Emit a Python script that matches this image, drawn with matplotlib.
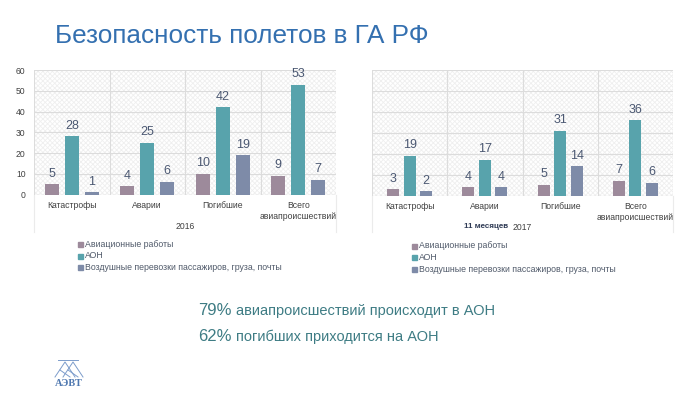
import matplotlib
matplotlib.use("Agg")
import matplotlib.pyplot as plt
import numpy as np
from matplotlib.patches import Rectangle
from matplotlib.lines import Line2D

plt.rcParams['font.family'] = ['Liberation Sans', 'DejaVu Sans']
plt.rcParams['hatch.linewidth'] = 0.6

categories = ["Катастрофы", "Аварии", "Погибшие", "Всего\nавиапроисшествий"]
series_names = ["Авиационные работы", "АОН", "Воздушные перевозки пассажиров, груза, почты"]
vals_2016_aw = [5, 4, 10, 9]
vals_2016_aon = [28, 25, 42, 53]
vals_2016_vp = [1, 6, 19, 7]
vals_2017_aw = [3, 4, 5, 7]
vals_2017_aon = [19, 17, 31, 36]
vals_2017_vp = [2, 4, 14, 6]
yticks = [0, 10, 20, 30, 40, 50, 60]

colors = ["#9D8A9B", "#58A3AC", "#7E8BA8"]
label_color = "#4B5872"
tick_color = "#404040"
grid_color = "#DCDCDC"

W, H = 700, 394
fig = plt.figure(figsize=(7, 3.94), dpi=100)

def fx(px):
    return px / W

def fy(py):
    return 1 - py / H

def draw_chart(rect, series, bw, step, show_yticks):
    ax = fig.add_axes(rect)
    x = np.arange(len(categories))
    # hatched background
    ax.add_patch(Rectangle((0, 0), 1, 1, transform=ax.transAxes, facecolor='white',
                           edgecolor='#EFEFEF', hatch='xxxxxxx', linewidth=0, zorder=0))
    for i, (vals, c) in enumerate(zip(series, colors)):
        xs = x + (i - 1) * step
        ax.bar(xs, vals, width=bw, color=c, zorder=3)
        for xb, v in zip(xs, vals):
            ax.text(xb, v + 2.2, str(v), ha='center', va='bottom', fontsize=9,
                    color=label_color, zorder=4)
    ax.set_xlim(-0.5, len(categories) - 0.5)
    ax.set_ylim(0, 60)
    ax.set_yticks(yticks)
    for yv in yticks[1:]:
        ax.axhline(yv, color=grid_color, lw=0.8, zorder=1)
    for xv in np.arange(-0.5, len(categories), 1.0):
        ax.axvline(xv, color=grid_color, lw=0.8, zorder=1)
    ax.axhline(0, color=grid_color, lw=0.9, zorder=2)
    for s in ax.spines.values():
        s.set_visible(False)
    ax.tick_params(axis='both', length=0)
    ax.set_xticks(x)
    ax.set_xticklabels(categories, fontsize=6.2, color=tick_color, linespacing=1.2, va='top')
    ax.tick_params(axis='x', pad=5)
    if show_yticks:
        ax.set_yticklabels([str(v) for v in yticks], fontsize=6.2, color=tick_color)
        ax.tick_params(axis='y', pad=6)
    else:
        ax.set_yticklabels([])
    return ax

ax1 = draw_chart([fx(34), fy(194.5), fx(302), (194.5 - 70) / H],
                 [vals_2016_aw, vals_2016_aon, vals_2016_vp], 0.19, 0.265, True)
ax2 = draw_chart([fx(372), fy(195.5), fx(301), (195.5 - 70) / H],
                 [vals_2017_aw, vals_2017_aon, vals_2017_vp], 0.16, 0.22, False)

# category axis box lines
for xp, y0, y1 in [(34, 194.5, 232), (336, 194.5, 232), (372, 195.5, 232), (673, 195.5, 232)]:
    fig.add_artist(Line2D([fx(xp), fx(xp)], [fy(y0), fy(y1)], color='#EBEBEB', lw=0.8))

fig.text(fx(185), fy(226), "2016", fontsize=6.2, color=tick_color, ha='center', va='center')
fig.text(fx(508), fy(227), "11 месяцев", fontsize=5.8, color='#2F3B55', ha='right',
         va='center', fontweight='bold')
fig.text(fx(513), fy(228), "2017", fontsize=6.2, color=tick_color, ha='left', va='center')

# legends
def draw_legend(x0, ys):
    for (name, c, yp) in zip(series_names, colors, ys):
        fig.add_artist(Rectangle((fx(x0), fy(yp + 2.5)), fx(5), 5 / H, color=c,
                                 transform=fig.transFigure))
        fig.text(fx(x0 + 7), fy(yp), name, fontsize=6.3, color='#505A6A', va='center', ha='left')

draw_legend(78, [244.5, 256, 267.5])
draw_legend(412, [246, 257.5, 269])

# title
fig.text(fx(55), fy(36), "Безопасность полетов в ГА РФ", fontsize=18.8, color='#3470B0',
         ha='left', va='center')

# bottom statements
tc = '#3E7C84'
fig.text(fx(198), fy(315), "79%", fontsize=12, color=tc, ha='left', va='baseline')
fig.text(fx(236), fy(315), "авиапроисшествий происходит в АОН", fontsize=10.5, color=tc,
         ha='left', va='baseline')
fig.text(fx(198), fy(341), "62%", fontsize=12, color=tc, ha='left', va='baseline')
fig.text(fx(236), fy(341), "погибших приходится на АОН", fontsize=10.5, color=tc,
         ha='left', va='baseline')

# logo
lc = '#7C9CCB'
logo_lines = [
    [(55, 377), (65, 362), (75, 377)],
    [(63, 377), (73, 362), (83, 377)],
    [(60, 370), (70, 377)],
    [(68, 370), (78, 377)],
    [(58, 360), (78, 360)],
]
for pts in logo_lines:
    xs = [fx(p[0]) for p in pts]
    ys = [fy(p[1]) for p in pts]
    fig.add_artist(Line2D(xs, ys, color=lc, lw=0.7))
fig.text(fx(69), fy(384), "АЭВТ", fontsize=7.5, color='#4F78B0', ha='center', va='center',
         fontweight='bold', family=['Liberation Serif', 'DejaVu Serif'])

fig.savefig("out.png", dpi=100, facecolor='white')
